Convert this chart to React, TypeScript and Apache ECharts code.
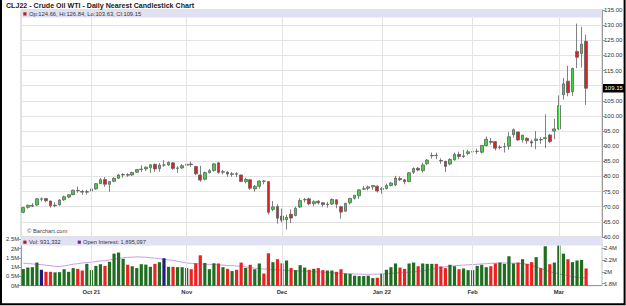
import React, { useEffect, useRef } from "react";
import * as echarts from "echarts";

const TITLE = "CLJ22 - Crude Oil WTI - Daily Nearest Candlestick Chart";
const COPYRIGHT = "\u00A9 Barchart.com";

const DATES = [
  "2021-09-10","2021-09-13","2021-09-14","2021-09-15","2021-09-16","2021-09-17","2021-09-20","2021-09-21","2021-09-22","2021-09-23","2021-09-24","2021-09-27","2021-09-28","2021-09-29","2021-09-30",
  "2021-10-01","2021-10-04","2021-10-05","2021-10-06","2021-10-07","2021-10-08","2021-10-11","2021-10-12","2021-10-13","2021-10-14","2021-10-15","2021-10-18","2021-10-19","2021-10-20","2021-10-21","2021-10-22","2021-10-25","2021-10-26","2021-10-27","2021-10-28","2021-10-29",
  "2021-11-01","2021-11-02","2021-11-03","2021-11-04","2021-11-05","2021-11-08","2021-11-09","2021-11-10","2021-11-11","2021-11-12","2021-11-15","2021-11-16","2021-11-17","2021-11-18","2021-11-19","2021-11-22","2021-11-23","2021-11-24","2021-11-26","2021-11-29","2021-11-30",
  "2021-12-01","2021-12-02","2021-12-03","2021-12-06","2021-12-07","2021-12-08","2021-12-09","2021-12-10","2021-12-13","2021-12-14","2021-12-15","2021-12-16","2021-12-17","2021-12-20","2021-12-21","2021-12-22","2021-12-23","2021-12-27","2021-12-28","2021-12-29","2021-12-30","2021-12-31",
  "2022-01-03","2022-01-04","2022-01-05","2022-01-06","2022-01-07","2022-01-10","2022-01-11","2022-01-12","2022-01-13","2022-01-14","2022-01-18","2022-01-19","2022-01-20","2022-01-21","2022-01-24","2022-01-25","2022-01-26","2022-01-27","2022-01-28","2022-01-31",
  "2022-02-01","2022-02-02","2022-02-03","2022-02-04","2022-02-07","2022-02-08","2022-02-09","2022-02-10","2022-02-11","2022-02-14","2022-02-15","2022-02-16","2022-02-17","2022-02-18","2022-02-22","2022-02-23","2022-02-24","2022-02-25","2022-02-28",
  "2022-03-01","2022-03-02","2022-03-03","2022-03-04","2022-03-07","2022-03-08","2022-03-09",
];

const OPEN = [
  68.14, 69.80, 70.20, 70.60, 72.50, 72.70, 71.90, 70.35, 70.60, 72.30, 73.20, 74.00, 75.40, 75.00, 74.80,
  75.20, 75.90, 77.60, 79.00, 77.40, 78.40, 79.40, 80.50, 80.60, 80.50, 81.40, 82.30, 82.50, 82.90, 84.00, 82.60, 83.80, 83.80, 84.50, 82.70, 82.80,
  83.70, 84.10, 83.30, 80.50, 79.10, 81.30, 82.00, 84.50, 81.40, 81.40, 80.70, 80.90, 80.50, 78.30, 78.90, 75.90, 76.80, 78.50, 78.30, 69.10, 70.10,
  66.90, 65.70, 67.50, 67.10, 69.90, 72.30, 72.60, 71.00, 71.80, 71.30, 70.70, 70.90, 72.30, 70.00, 68.50, 71.30, 72.80, 73.60, 75.80, 76.10, 76.60, 76.80,
  75.70, 76.00, 77.00, 77.20, 79.30, 78.90, 78.30, 81.40, 82.70, 81.90, 84.20, 86.80, 87.00, 85.30, 85.00, 84.10, 85.50, 87.30, 86.60, 87.60,
  88.10, 88.30, 88.00, 90.20, 91.60, 91.50, 89.60, 89.80, 90.00, 93.80, 94.70, 92.10, 92.60, 91.50, 91.90, 92.20, 92.50, 93.70, 95.00,
  95.70, 107.00, 111.50, 108.00, 121.30, 120.60, 124.66,
];
const HIGH = [
  69.98, 70.75, 71.20, 72.80, 73.05, 72.80, 72.00, 71.50, 72.50, 73.70, 74.10, 75.65, 76.70, 75.60, 75.60,
  76.20, 77.80, 79.50, 79.80, 78.50, 79.80, 80.80, 81.10, 81.10, 81.60, 82.40, 83.70, 83.30, 84.00, 84.30, 84.40, 85.40, 85.00, 84.70, 83.40, 84.10,
  84.90, 84.90, 83.50, 83.50, 81.60, 82.50, 84.50, 84.80, 82.20, 81.80, 81.50, 81.40, 80.60, 79.60, 79.20, 77.20, 78.70, 78.80, 78.40, 71.90, 70.80,
  69.40, 67.40, 69.10, 70.00, 72.80, 72.90, 73.00, 72.10, 72.20, 71.60, 71.60, 72.80, 72.40, 70.30, 71.30, 72.90, 73.90, 75.70, 76.90, 77.00, 77.10, 77.00,
  76.50, 77.60, 78.20, 80.20, 80.00, 79.20, 81.50, 83.00, 83.10, 84.50, 85.70, 87.90, 87.90, 86.00, 85.20, 86.00, 87.90, 88.20, 88.80, 88.80,
  88.80, 89.20, 90.40, 93.20, 92.70, 91.70, 90.30, 91.10, 94.66, 95.82, 94.80, 93.70, 93.00, 92.20, 95.00, 93.00, 100.54, 94.00, 99.10,
  106.78, 112.51, 116.57, 116.00, 130.50, 129.44, 126.84,
];
const LOW = [
  67.85, 69.35, 69.85, 70.20, 71.75, 71.50, 69.70, 69.80, 70.40, 71.90, 72.80, 73.80, 74.60, 73.90, 74.00,
  74.50, 75.60, 77.50, 76.60, 74.95, 78.10, 79.20, 79.60, 79.90, 80.20, 81.20, 81.50, 81.80, 81.20, 81.50, 81.60, 83.20, 83.50, 82.20, 81.20, 82.50,
  82.70, 83.10, 80.40, 78.25, 78.70, 80.90, 81.60, 80.90, 80.70, 79.90, 79.90, 79.80, 78.20, 77.70, 75.60, 75.00, 76.00, 77.40, 67.40, 68.50, 64.43,
  64.80, 62.43, 64.60, 66.80, 69.60, 71.40, 70.50, 70.20, 70.70, 70.00, 69.70, 70.60, 69.50, 66.04, 68.40, 70.70, 72.40, 72.60, 75.50, 75.40, 75.60, 74.70,
  74.30, 75.70, 76.70, 76.80, 78.50, 77.40, 78.10, 80.80, 81.70, 81.30, 83.80, 85.90, 85.70, 84.20, 81.44, 83.70, 85.20, 85.70, 86.10, 87.00,
  86.70, 87.40, 87.60, 89.90, 90.50, 88.60, 88.90, 87.90, 88.80, 92.90, 91.80, 91.20, 90.80, 89.70, 89.00, 90.80, 89.40, 91.00, 92.30,
  95.30, 105.40, 106.50, 106.60, 115.80, 116.00, 103.63,
];
const CLOSE = [
  69.72, 70.45, 70.46, 72.61, 72.61, 71.97, 70.29, 70.56, 72.23, 73.30, 73.98, 75.45, 75.29, 74.83, 75.03,
  75.88, 77.62, 78.93, 77.43, 78.30, 79.35, 80.52, 80.64, 80.44, 81.31, 82.28, 82.44, 83.07, 83.87, 82.50, 83.76, 83.76, 84.65, 82.66, 82.81, 83.57,
  84.05, 83.91, 80.86, 78.81, 81.27, 81.93, 84.15, 81.34, 81.59, 80.79, 80.88, 80.76, 78.36, 79.01, 76.10, 76.75, 78.50, 78.39, 68.15, 69.95, 66.18,
  65.57, 66.50, 66.26, 69.49, 72.05, 72.36, 70.94, 71.67, 71.29, 70.73, 70.87, 72.38, 70.86, 68.23, 71.12, 72.76, 73.79, 75.57, 75.98, 76.56, 76.99, 75.21,
  76.08, 76.99, 77.85, 79.46, 78.90, 78.23, 81.22, 82.64, 82.12, 83.82, 85.43, 86.96, 86.90, 85.14, 83.31, 85.60, 87.35, 86.61, 86.82, 88.15,
  88.20, 88.26, 90.27, 92.31, 91.32, 89.36, 89.66, 89.88, 93.10, 95.46, 92.07, 93.66, 91.76, 91.07, 92.35, 92.10, 92.81, 91.59, 95.72,
  103.41, 110.60, 107.67, 115.68, 119.40, 123.70, 109.15,
];

const VOLUME = [
  900000, 980000, 1000000, 1250000, 860000, 750000, 750000, 720000, 730000, 890000, 750000, 950000, 910000, 820000, 1180000,
  840000, 1070000, 1160000, 1070000, 1290000, 1730000, 1790000, 1450000, 1130000, 1050000, 950000, 1160000, 1140000, 1020000, 1180000, 1270000, 1480000, 1020000, 1020000, 1000000, 1000000,
  950000, 890000, 1210000, 1640000, 1230000, 890000, 1210000, 1200000, 1000000, 910000, 790000, 860000, 1250000, 960000, 1130000, 890000, 1200000, 660000, 1750000, 1270000, 1430000,
  1210000, 1360000, 960000, 840000, 1110000, 980000, 860000, 910000, 950000, 840000, 820000, 820000, 750000, 890000, 660000, 640000, 540000, 520000, 520000, 540000, 410000, 430000,
  640000, 860000, 1000000, 1200000, 980000, 910000, 1200000, 1250000, 1050000, 1200000, 1180000, 1180000, 1180000, 1040000, 950000, 1130000, 1050000, 890000, 930000, 840000,
  840000, 1070000, 1130000, 1000000, 1050000, 1200000, 1250000, 1180000, 1590000, 1200000, 1250000, 1430000, 1180000, 1270000, 1540000, 950000, 2130000, 1160000, 1250000,
  2180000, 1730000, 1430000, 1270000, 1360000, 1390000, 931332,
];

const OPEN_INTEREST = [
  2150000, 2140000, 2136000, 2128000, 2124000, 2113000, 2106000, 2094000, 2091000, 2102000, 2114000, 2131000, 2139000, 2152000, 2158000,
  2166000, 2173000, 2187000, 2189000, 2203000, 2214000, 2232000, 2238000, 2247000, 2249000, 2256000, 2251000, 2249000, 2238000, 2233000, 2224000, 2216000, 2203000, 2196000, 2178000, 2166000,
  2151000, 2144000, 2141000, 2133000, 2131000, 2127000, 2126000, 2118000, 2116000, 2109000, 2106000, 2099000, 2096000, 2084000, 2076000, 2063000, 2057000, 2049000, 2046000, 2038000, 2036000,
  2029000, 2026000, 2019000, 2018000, 2014000, 2013000, 2008000, 2006000, 1998000, 1996000, 1989000, 1986000, 1979000, 1976000, 1969000, 1968000, 1964000, 1963000, 1959000, 1958000, 1961000, 1962000,
  1966000, 1969000, 1976000, 1979000, 1986000, 1989000, 1996000, 1999000, 2011000, 2019000, 2031000, 2044000, 2061000, 2074000, 2086000, 2094000, 2106000, 2109000, 2116000, 2119000,
  2126000, 2129000, 2136000, 2139000, 2146000, 2147000, 2151000, 2152000, 2149000, 2148000, 2144000, 2141000, 2129000, 2111000, 2084000, 2061000, 2029000, 2006000, 1984000,
  1966000, 1949000, 1936000, 1919000, 1911000, 1899000, 1895097,
];

const MONTH_LABELS = ["Oct 21", "Nov", "Dec", "Jan 22", "Feb", "Mar"];
const TRAILING_SLOTS = 3;

const FONT = '"Liberation Sans", Arial, Helvetica, sans-serif';
const UP_FILL = "#3fd43f";
const DOWN_FILL = "#d42626";
const WICK = "#626262";
const VOL_UP = "#1f6e1f";
const VOL_DOWN = "#ee2020";
const VOL_FLAT = "#1c1c80";
const OI_COLOR = "#c99ee8";
const BAND = "#e1e1f6";
const GRID_LINE = "#e3e3e3";

export default function App() {
  const ref = useRef<HTMLDivElement>(null);

  useEffect(() => {
    if (!ref.current) return;
    const chart = echarts.init(ref.current, null, { renderer: "svg" });

    const n = DATES.length;
    const cats = [...DATES, ...Array.from({ length: TRAILING_SLOTS }, (_, k) => `pad${k}`)];
    const pad = (arr: any[]) => [...arr, ...Array.from({ length: TRAILING_SLOTS }, () => "-")];

    const monthStarts: number[] = [];
    for (let i = 1; i < n; i++) {
      if (DATES[i].slice(5, 7) !== DATES[i - 1].slice(5, 7)) monthStarts.push(i);
    }
    const labelAt = new Map<number, string>(monthStarts.map((idx, k) => [idx, MONTH_LABELS[k]]));

    const candles = pad(DATES.map((_, i) => [OPEN[i], CLOSE[i], LOW[i], HIGH[i]]));
    const vols = pad(
      VOLUME.map((v, i) => {
        const d = i === 0 ? Math.sign(CLOSE[0] - OPEN[0]) : Math.sign(CLOSE[i] - CLOSE[i - 1]);
        return { value: v, itemStyle: { color: d > 0 ? VOL_UP : d < 0 ? VOL_DOWN : VOL_FLAT } };
      })
    );
    const empty = pad(DATES.map(() => "-"));

    const last = n - 1;
    const lastClose = CLOSE[last];
    const ohlcText = `Op:${OPEN[last].toFixed(2)}, Hi:${HIGH[last].toFixed(2)}, Lo:${LOW[last].toFixed(2)}, Cl:${lastClose.toFixed(2)}`;
    const volText = `Vol: ${VOLUME[last].toLocaleString("en-US")}`;
    const oiText = `Open Interest: ${OPEN_INTEREST[last].toLocaleString("en-US")}`;

    const monthLines = (color: string) => ({
      silent: true,
      symbol: ["none", "none"],
      label: { show: false },
      lineStyle: { color, width: 1, type: "solid" },
      emphasis: { disabled: true },
      data: monthStarts.map((i) => ({ xAxis: cats[i] })),
    });

    const option: any = {
      animation: false,
      backgroundColor: "#ffffff",
      textStyle: { fontFamily: FONT },
      grid: [
        { left: 21, top: 10, width: 581, height: 227, show: true, borderColor: "#c4c4c4", borderWidth: 1, backgroundColor: "#fff", outerBoundsMode: "none" },
        { left: 21, top: 239.4, width: 581, height: 46.3, show: true, borderColor: "#c4c4c4", borderWidth: 1, backgroundColor: "#fff", outerBoundsMode: "none" },
        { left: 21, top: 248.3, width: 581, height: 35.4, show: false, outerBoundsMode: "none" },
      ],
      xAxis: [
        { type: "category", gridIndex: 0, data: cats, boundaryGap: true, axisLine: { show: false }, axisTick: { show: false }, axisLabel: { show: false }, splitLine: { show: false } },
        {
          type: "category", gridIndex: 1, data: cats, boundaryGap: true,
          axisLine: { show: true, lineStyle: { color: "#999" } },
          axisTick: { show: false },
          splitLine: { show: false },
          axisLabel: {
            interval: (i: number) => labelAt.has(i),
            formatter: (_v: string, i: number) => labelAt.get(i) ?? "",
            fontSize: 5.8, fontWeight: "bold", color: "#333", margin: 3, fontFamily: FONT,
          },
        },
        { type: "category", gridIndex: 2, data: cats, boundaryGap: true, show: false },
      ],
      yAxis: [
        {
          type: "value", gridIndex: 0, position: "right", min: 60, max: 135, interval: 5,
          axisLine: { show: true, lineStyle: { color: "#999" } },
          axisTick: { show: true, length: 3, lineStyle: { color: "#999" } },
          axisLabel: {
            fontSize: 6, color: "#333", margin: 2, fontFamily: FONT,
            // the last-price box covers the tick label it sits on
            formatter: (v: number) => (Math.abs(v - lastClose) < 2.5 ? "" : v.toFixed(2)),
          },
          splitLine: { show: true, lineStyle: { color: GRID_LINE, width: 1 } },
        },
        {
          type: "value", gridIndex: 1, position: "left", min: 0, max: 2500000, interval: 500000,
          axisLine: { show: true, lineStyle: { color: "#999" } },
          axisTick: { show: true, length: 2, lineStyle: { color: "#999" } },
          axisLabel: { fontSize: 5.8, color: "#333", margin: 2, fontFamily: FONT, formatter: (v: number) => `${v / 1e6}M` },
          splitLine: { show: false },
        },
        {
          type: "value", gridIndex: 2, position: "right", min: 1800000, max: 2400000, interval: 200000,
          axisLine: { show: false },
          axisTick: { show: true, length: 3, lineStyle: { color: "#999" } },
          axisLabel: { fontSize: 5.8, color: "#333", margin: 2, fontFamily: FONT, formatter: (v: number) => `${Number((v / 1e6).toFixed(1))}M` },
          splitLine: { show: false },
        },
      ],
      series: [
        { type: "line", xAxisIndex: 0, yAxisIndex: 0, data: empty, z: 1, silent: true, showSymbol: false, markLine: monthLines(GRID_LINE) },
        { type: "line", xAxisIndex: 1, yAxisIndex: 1, data: empty, z: 1, silent: true, showSymbol: false, markLine: monthLines(GRID_LINE) },
        {
          type: "candlestick", xAxisIndex: 0, yAxisIndex: 0, data: candles, z: 3,
          barWidth: 3.2,
          itemStyle: { color: UP_FILL, color0: DOWN_FILL, borderColor: WICK, borderColor0: WICK, borderWidth: 0.8 },
          markLine: {
            silent: true,
            symbol: ["none", "none"],
            lineStyle: { color: "rgba(0,0,0,0)", width: 0, type: "solid" },
            label: {
              show: true, position: "end", distance: 1, opacity: 1,
              formatter: () => lastClose.toFixed(2),
              color: "#ffffff", backgroundColor: "#000000", fontSize: 6, fontFamily: FONT,
              padding: [1.5, 1.5, 1, 1.5],
            },
            data: [{ yAxis: lastClose }],
          },
        },
        {
          type: "line", xAxisIndex: 2, yAxisIndex: 2, data: pad(OPEN_INTEREST), z: 2,
          showSymbol: false, clip: false, lineStyle: { color: OI_COLOR, width: 1 }, silent: true,
        },
        { type: "bar", xAxisIndex: 1, yAxisIndex: 1, data: vols, barWidth: 3.2, z: 3, silent: true },
      ],
      graphic: {
        elements: [
          { type: "text", x: 6, y: 5.5, z: 100, style: { text: TITLE, fontSize: 7.1, fontWeight: "bold", fontFamily: FONT, fill: "#1a1a1a", verticalAlign: "middle" } },
          { type: "rect", z: 100, shape: { x: 21, y: 10.5, width: 581, height: 7 }, style: { fill: BAND } },
          { type: "rect", z: 101, shape: { x: 23.3, y: 12.3, width: 3.2, height: 3.2 }, style: { fill: "#c0161c" } },
          { type: "text", x: 29, y: 14, z: 101, style: { text: ohlcText, fontSize: 5.8, fontFamily: FONT, fill: "#333", verticalAlign: "middle" } },
          { type: "text", x: 27, y: 231, z: 101, style: { text: COPYRIGHT, fontSize: 5.8, fontFamily: FONT, fill: "#444", verticalAlign: "middle" } },
          { type: "rect", z: 100, shape: { x: 21, y: 238, width: 581, height: 7.5 }, style: { fill: BAND } },
          { type: "rect", z: 101, shape: { x: 23.3, y: 240.6, width: 3.2, height: 3.2 }, style: { fill: "#c0161c" } },
          { type: "text", x: 29, y: 242.3, z: 101, style: { text: volText, fontSize: 5.7, fontFamily: FONT, fill: "#333", verticalAlign: "middle" } },
          { type: "rect", z: 101, shape: { x: 77.7, y: 240.6, width: 3.2, height: 3.2 }, style: { fill: "#6a2aa8" } },
          { type: "text", x: 83, y: 242.3, z: 101, style: { text: oiText, fontSize: 5.7, fontFamily: FONT, fill: "#333", verticalAlign: "middle" } },
          { type: "polyline", z: 110, shape: { points: [[1, 0], [1, 304.3], [624.6, 304.3], [624.6, 0]] }, style: { stroke: "#000", lineWidth: 2, fill: null } },
        ],
      },
    };

    chart.setOption(option);
    return () => chart.dispose();
  }, []);

  return <div ref={ref} style={{ position: "absolute", left: 0, top: 0, width: 626, height: 306 }} />;
}
